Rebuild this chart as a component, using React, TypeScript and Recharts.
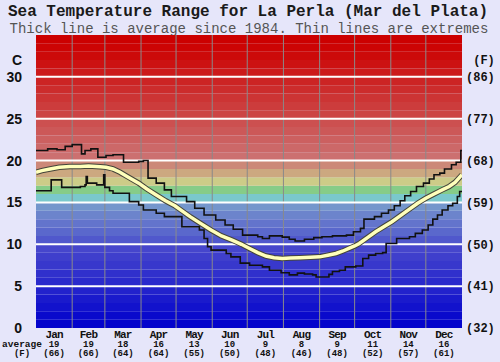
import React from 'react';
import { ComposedChart, Line, XAxis, YAxis, ReferenceArea, ReferenceLine } from 'recharts';

// ---- data ----
const months = ['Jan', 'Feb', 'Mar', 'Apr', 'May', 'Jun', 'Jul', 'Aug', 'Sep', 'Oct', 'Nov', 'Dec'];
const monthAvgC = ['19', '19', '18', '16', '13', '10', '9', '8', '9', '11', '14', '16'];
const monthAvgF = ['(66)', '(66)', '(64)', '(64)', '(55)', '(50)', '(48)', '(46)', '(48)', '(52)', '(57)', '(61)'];
const monthMid = [15.5, 45, 74.5, 105, 135.5, 166, 196.5, 227.5, 258, 288.5, 319, 349.5];
const monthStart = [31, 59, 90, 120, 151, 181, 212, 243, 273, 304, 334];

const leftTicks = [0, 5, 10, 15, 20, 25, 30, 32];
const leftLabels = ['0', '5', '10', '15', '20', '25', '30', 'C'];
const rightLabels = ['(32)', '(41)', '(50)', '(59)', '(68)', '(77)', '(86)', '\u00A0(F)'];
const whiteLines = [5, 10, 15, 20, 25, 30];

// average (day of year, °C)
const avgDays = [0, 5, 12, 20, 29, 38, 45, 55, 60, 66, 72, 78, 88, 95, 103, 111, 119, 126, 132, 141, 150, 159, 168, 176, 183, 190, 197, 204, 211, 218, 226, 235, 243, 250, 257, 263, 268, 273, 277, 284, 291, 298, 305, 312, 320, 327, 334, 341, 348, 354, 359, 365];
const avgTemps = [18.6, 18.8, 19.0, 19.2, 19.3, 19.3, 19.35, 19.25, 19.2, 19.0, 18.6, 18.1, 17.3, 16.6, 15.9, 15.2, 14.6, 13.9, 13.3, 12.5, 11.7, 11.0, 10.5, 10.0, 9.5, 9.0, 8.6, 8.4, 8.3, 8.35, 8.4, 8.45, 8.5, 8.7, 8.9, 9.2, 9.5, 9.8, 10.1, 10.8, 11.5, 12.1, 12.7, 13.4, 14.2, 14.9, 15.5, 16.0, 16.5, 16.9, 17.4, 18.3];

// maximum extreme (stepped)
const maxDays = [0, 10, 18, 25, 31, 39, 42, 47, 53, 60, 66, 75, 88, 92, 96, 103, 110, 116, 129, 136, 144, 154, 162, 169, 177, 190, 194, 200, 211, 217, 222, 230, 238, 245, 254, 266, 272, 278, 281, 290, 296, 302, 307, 312, 316, 321, 326, 332, 337, 341, 346, 350, 356, 360, 364, 365];
const maxTemps = [21.2, 21.4, 21.3, 21.7, 21.9, 20.8, 21.2, 21.4, 20.4, 20.6, 20.7, 19.8, 19.9, 20.0, 17.9, 17.3, 16.5, 15.7, 15.1, 14.3, 13.5, 12.9, 12.3, 11.8, 11.1, 10.9, 10.7, 11.0, 10.85, 10.6, 10.4, 10.6, 10.8, 10.9, 11.0, 11.1, 11.5, 11.9, 13.0, 13.3, 13.7, 14.1, 14.6, 15.2, 15.8, 16.3, 16.9, 17.3, 17.8, 18.3, 18.5, 19.0, 19.5, 19.8, 21.2, 21.2];

// minimum extreme (stepped)
const minDays = [0, 13, 22, 38, 42, 43, 44, 52, 58, 59, 63, 66, 80, 88, 92, 103, 110, 125, 140, 144, 147, 150, 163, 167, 175, 183, 194, 200, 210, 217, 224, 230, 237, 240, 251, 254, 260, 265, 274, 280, 285, 291, 297, 300, 309, 320, 325, 331, 336, 340, 344, 348, 353, 357, 361, 363, 365];
const minTemps = [16.4, 17.7, 16.8, 16.9, 17.1, 18.1, 17.3, 17.1, 18.3, 16.8, 16.4, 16.1, 15.1, 14.7, 14.1, 13.7, 13.3, 12.1, 11.7, 10.7, 9.7, 9.3, 8.9, 8.5, 7.75, 7.5, 7.3, 6.9, 6.6, 6.35, 6.55, 6.45, 6.35, 6.1, 6.4, 6.75, 6.9, 7.3, 7.4, 8.3, 8.7, 8.9, 9.0, 10.1, 10.7, 10.9, 11.3, 11.7, 12.3, 13.0, 13.5, 14.1, 14.6, 14.9, 15.7, 16.3, 16.3];

// background colour bands, one per degree from 0 up to 35
const bandColors = [
  '#0404cc', '#0a0acc', '#1212cc', '#1a1acc', '#2222cc',
  '#2a2acc', '#3030cc', '#3838cc', '#3f3fcc', '#4646cc',
  '#5058cc', '#5a68cc', '#6374cc', '#6c84cc', '#7496cc',
  '#7ac8cc', '#86cc88', '#cccc88', '#cca880', '#cc8878',
  '#cc7070', '#cc6868', '#cc6060', '#cc5858', '#cc5050',
  '#cc4444', '#cc3c3c', '#cc3434', '#cc2c2c', '#cc2424',
  '#cc1a1a', '#cc1212', '#cc0a0a', '#cc0404', '#cc0000',
];

const avgData = avgDays.map((d, i) => ({ d, t: avgTemps[i] }));
const maxData = maxDays.map((d, i) => ({ d, t: maxTemps[i] }));
const minData = minDays.map((d, i) => ({ d, t: minTemps[i] }));

const MONO = '"Liberation Mono", "Courier New", monospace';

const MonthTick = (props: any) => {
  const { x, y, payload } = props;
  const i = monthMid.indexOf(payload.value);
  if (i < 0) return null;
  return (
    <g fontFamily={MONO} fill="#111">
      <text x={x} y={y + 10} textAnchor="middle" fontSize={11} fontWeight="bold" letterSpacing={-0.8}>{months[i]}</text>
      <text x={x} y={y + 18.5} textAnchor="middle" fontSize={9} fontWeight="bold">{monthAvgC[i]}</text>
      <text x={x} y={y + 27.5} textAnchor="middle" fontSize={9} fontWeight="bold">{monthAvgF[i]}</text>
      {i === 0 && (
        <>
          <text x={22} y={y + 18.5} textAnchor="middle" fontSize={9.5} fontWeight="bold">average</text>
          <text x={22} y={y + 27.5} textAnchor="middle" fontSize={9} fontWeight="bold">(F)</text>
        </>
      )}
    </g>
  );
};

export default function App() {
  return (
    <div style={{ position: 'absolute', left: 0, top: 0, width: 500, height: 362, background: '#e6e6fa', overflow: 'hidden' }}>
      <svg width={500} height={36} style={{ position: 'absolute', left: 0, top: 0 }}>
        <text x={248} y={16} textAnchor="middle" fontFamily={MONO} fontSize={16} fontWeight="bold" fill="#1a1a1a">
          Sea Temperature Range for La Perla (Mar del Plata)
        </text>
        <text x={249} y={33} textAnchor="middle" fontFamily={MONO} fontSize={14} fill="#555">
          Thick line is average since 1984. Thin lines are extremes
        </text>
      </svg>
      <div style={{ position: 'absolute', left: 0, top: 0 }}>
        <ComposedChart width={500} height={362} margin={{ top: 35, right: 0, bottom: 0, left: 0 }}>
          <XAxis
            dataKey="d"
            type="number"
            domain={[0, 365]}
            ticks={monthMid}
            interval={0}
            tick={<MonthTick />}
            axisLine={false}
            tickLine={false}
            tickSize={0}
            tickMargin={0}
            height={34}
            allowDataOverflow
          />
          <YAxis
            yAxisId="left"
            type="number"
            domain={[0, 35]}
            ticks={leftTicks}
            interval={0}
            tickFormatter={(v: number) => leftLabels[leftTicks.indexOf(v)]}
            tick={{ fill: '#111', fontSize: 14, fontWeight: 'bold', fontFamily: '"Liberation Sans", Arial, sans-serif' }}
            axisLine={false}
            tickLine={false}
            tickSize={0}
            tickMargin={14}
            width={36}
            allowDataOverflow
          />
          <YAxis
            yAxisId="right"
            orientation="right"
            type="number"
            domain={[0, 35]}
            ticks={leftTicks}
            interval={0}
            tickFormatter={(v: number) => rightLabels[leftTicks.indexOf(v)]}
            tick={{ fill: '#111', fontSize: 12, fontWeight: 'bold', fontFamily: MONO, textAnchor: 'start' }}
            axisLine={false}
            tickLine={false}
            tickSize={0}
            tickMargin={4}
            width={38}
            allowDataOverflow
          />
          {bandColors.map((c, i) => (
            <ReferenceArea key={'b' + i} yAxisId="left" y1={i} y2={i + 1} fill={c} fillOpacity={1} stroke="none" ifOverflow="hidden" />
          ))}
          {monthStart.map((d) => (
            <ReferenceLine key={'v' + d} yAxisId="left" x={d} stroke="#8a8a8a" strokeWidth={1} />
          ))}
          {whiteLines.map((t) => (
            <ReferenceLine key={'h' + t} yAxisId="left" y={t} stroke="#ffffff" strokeWidth={2} />
          ))}
          <Line yAxisId="left" data={maxData} dataKey="t" type="stepAfter" stroke="#111" strokeWidth={1.6} dot={false} activeDot={false} isAnimationActive={false} />
          <Line yAxisId="left" data={minData} dataKey="t" type="stepAfter" stroke="#111" strokeWidth={1.6} dot={false} activeDot={false} isAnimationActive={false} />
          <Line yAxisId="left" data={avgData} dataKey="t" type="linear" stroke="#45453a" strokeWidth={5.5} dot={false} activeDot={false} isAnimationActive={false} />
          <Line yAxisId="left" data={avgData} dataKey="t" type="linear" stroke="#ffffbb" strokeWidth={3.5} dot={false} activeDot={false} isAnimationActive={false} />
        </ComposedChart>
      </div>
    </div>
  );
}
